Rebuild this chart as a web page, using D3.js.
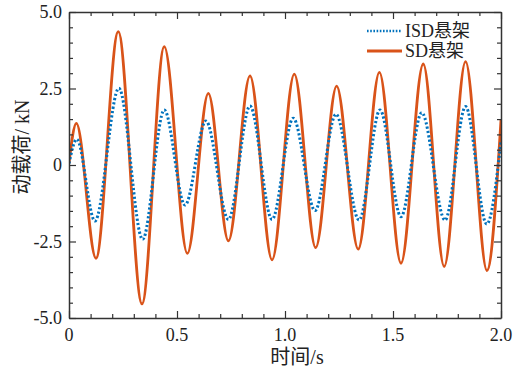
<!DOCTYPE html>
<html>
<head>
<meta charset="utf-8">
<script src="https://cdn.jsdelivr.net/npm/d3@7"></script>
<style>
  html, body { margin: 0; padding: 0; background: #fff; }
  svg { display: block; }
</style>
</head>
<body>
<svg id="chart" width="519" height="373"></svg>
<script>
// ---- Data ----
const sdTime  = [0, 0.034, 0.125, 0.228, 0.338, 0.441, 0.548, 0.645, 0.738, 0.838, 0.940, 1.043, 1.142, 1.239, 1.339, 1.437, 1.537, 1.640, 1.737, 1.836, 1.935, 2.0];
const sdLoad  = [0.06, 1.36, -3.05, 4.36, -4.54, 3.87, -2.89, 2.34, -2.48, 2.91, -3.10, 2.97, -2.70, 2.58, -2.75, 3.03, -3.21, 3.30, -3.32, 3.38, -3.45, 1.47];
const isdTime = [0, 0.036, 0.120, 0.231, 0.341, 0.441, 0.537, 0.634, 0.738, 0.838, 0.940, 1.038, 1.139, 1.236, 1.343, 1.440, 1.537, 1.633, 1.741, 1.836, 1.934, 2.0];
const isdLoad = [0.05, 0.84, -1.83, 2.51, -2.43, 1.80, -1.31, 1.44, -1.78, 1.93, -1.78, 1.53, -1.49, 1.66, -1.80, 1.80, -1.69, 1.71, -1.80, 1.91, -1.93, 0.78];
const xMajorTicks = [0, 0.5, 1.0, 1.5, 2.0];
const xTickLabels = ["0", "0.5", "1.0", "1.5", "2.0"];
const yMajorTicks = [-5, -2.5, 0, 2.5, 5];
const yTickLabels = ["-5.0", "-2.5", "0", "2.5", "5.0"];
const seriesNames = ["ISD悬架", "SD悬架"];
const seriesColors = ["#0072BD", "#D95319"];

const FONT = "'Liberation Serif', 'DejaVu Serif', 'Noto Sans CJK SC', serif";

// ---- Layout ----
const svg = d3.select("#chart");
const L = 69, R = 501, T = 12, B = 318;
const x = d3.scaleLinear().domain([0, 2]).range([L, R]);
const y = d3.scaleLinear().domain([-5, 5]).range([B, T]);
const axisColor = "#333";

const xMinor = d3.range(0, 2.0001, 0.1).map(v => +v.toFixed(2));
const yMinor = d3.range(-5, 5.0001, 0.5).map(v => +v.toFixed(2));

svg.append("clipPath").attr("id", "clip")
  .append("rect").attr("x", L).attr("y", T).attr("width", R - L).attr("height", B - T);

// ---- Lines ----
const lineGen = (xs, ys) => d3.line()
  .x((d, i) => x(xs[i])).y((d, i) => y(ys[i]))
  .curve(d3.curveMonotoneX)(xs);

const g = svg.append("g").attr("clip-path", "url(#clip)");
g.append("path").attr("d", lineGen(sdTime, sdLoad))
  .attr("fill", "none").attr("stroke", seriesColors[1]).attr("stroke-width", 2.8);
g.append("path").attr("d", lineGen(isdTime, isdLoad))
  .attr("fill", "none").attr("stroke", seriesColors[0]).attr("stroke-width", 3)
  .attr("stroke-dasharray", "2.2,2.2");

// ---- Axes ----
function isMajor(v, majors) { return majors.some(m => Math.abs(m - v) < 1e-6); }

const axB = svg.append("g").attr("transform", `translate(0,${B})`)
  .call(d3.axisBottom(x).tickValues(xMinor).tickSize(0).tickFormat(""));
const axT = svg.append("g").attr("transform", `translate(0,${T})`)
  .call(d3.axisTop(x).tickValues(xMinor).tickSize(0).tickFormat(""));
const axL = svg.append("g").attr("transform", `translate(${L},0)`)
  .call(d3.axisLeft(y).tickValues(yMinor).tickSize(0).tickFormat(""));
const axR = svg.append("g").attr("transform", `translate(${R},0)`)
  .call(d3.axisRight(y).tickValues(yMinor).tickSize(0).tickFormat(""));

[axB, axT, axL, axR].forEach(a => {
  a.select(".domain").attr("stroke", axisColor).attr("stroke-width", 1.5);
});
axB.selectAll(".tick line").attr("stroke", axisColor).attr("stroke-width", 1.2)
  .attr("y2", d => isMajor(d, xMajorTicks) ? -7 : -4);
axT.selectAll(".tick line").attr("stroke", axisColor).attr("stroke-width", 1.2)
  .attr("y2", d => isMajor(d, xMajorTicks) ? 7 : 4);
axL.selectAll(".tick line").attr("stroke", axisColor).attr("stroke-width", 1.2)
  .attr("x2", d => isMajor(d, yMajorTicks) ? 7 : 4);
axR.selectAll(".tick line").attr("stroke", axisColor).attr("stroke-width", 1.2)
  .attr("x2", d => isMajor(d, yMajorTicks) ? -7 : -4);

// tick labels
svg.append("g").selectAll("text").data(xMajorTicks).join("text")
  .attr("x", d => x(d)).attr("y", B + 23)
  .attr("text-anchor", "middle").attr("font-size", 18)
  .attr("font-family", FONT).attr("fill", "#222")
  .text((d, i) => xTickLabels[i]);
svg.append("g").selectAll("text").data(yMajorTicks).join("text")
  .attr("x", L - 7).attr("y", d => y(d) + 6)
  .attr("text-anchor", "end").attr("font-size", 18)
  .attr("font-family", FONT).attr("fill", "#222")
  .text((d, i) => yTickLabels[i]);

// axis titles
svg.append("text").attr("x", (L + R) / 2 + 12).attr("y", 364)
  .attr("text-anchor", "middle").attr("font-size", 20)
  .attr("font-family", FONT).attr("fill", "#222").text("时间/s");
svg.append("text").attr("transform", `translate(29,147) rotate(-90)`)
  .attr("text-anchor", "middle").attr("font-size", 20)
  .attr("font-family", FONT).attr("fill", "#222").text("动载荷/ kN");

// ---- Legend ----
const leg = svg.append("g");
const legY = [31, 51];
leg.selectAll("line").data(seriesNames).join("line")
  .attr("x1", 367).attr("x2", 402)
  .attr("y1", (d, i) => legY[i]).attr("y2", (d, i) => legY[i])
  .attr("stroke", (d, i) => seriesColors[i]).attr("stroke-width", (d, i) => i === 0 ? 2.5 : 3)
  .attr("stroke-dasharray", (d, i) => i === 0 ? "1.6,1.6" : null);
leg.selectAll("text").data(seriesNames).join("text")
  .attr("x", 405).attr("y", (d, i) => legY[i] + 6)
  .attr("font-size", 18).attr("font-family", FONT).attr("fill", "#222")
  .text(d => d);
</script>
</body>
</html>
